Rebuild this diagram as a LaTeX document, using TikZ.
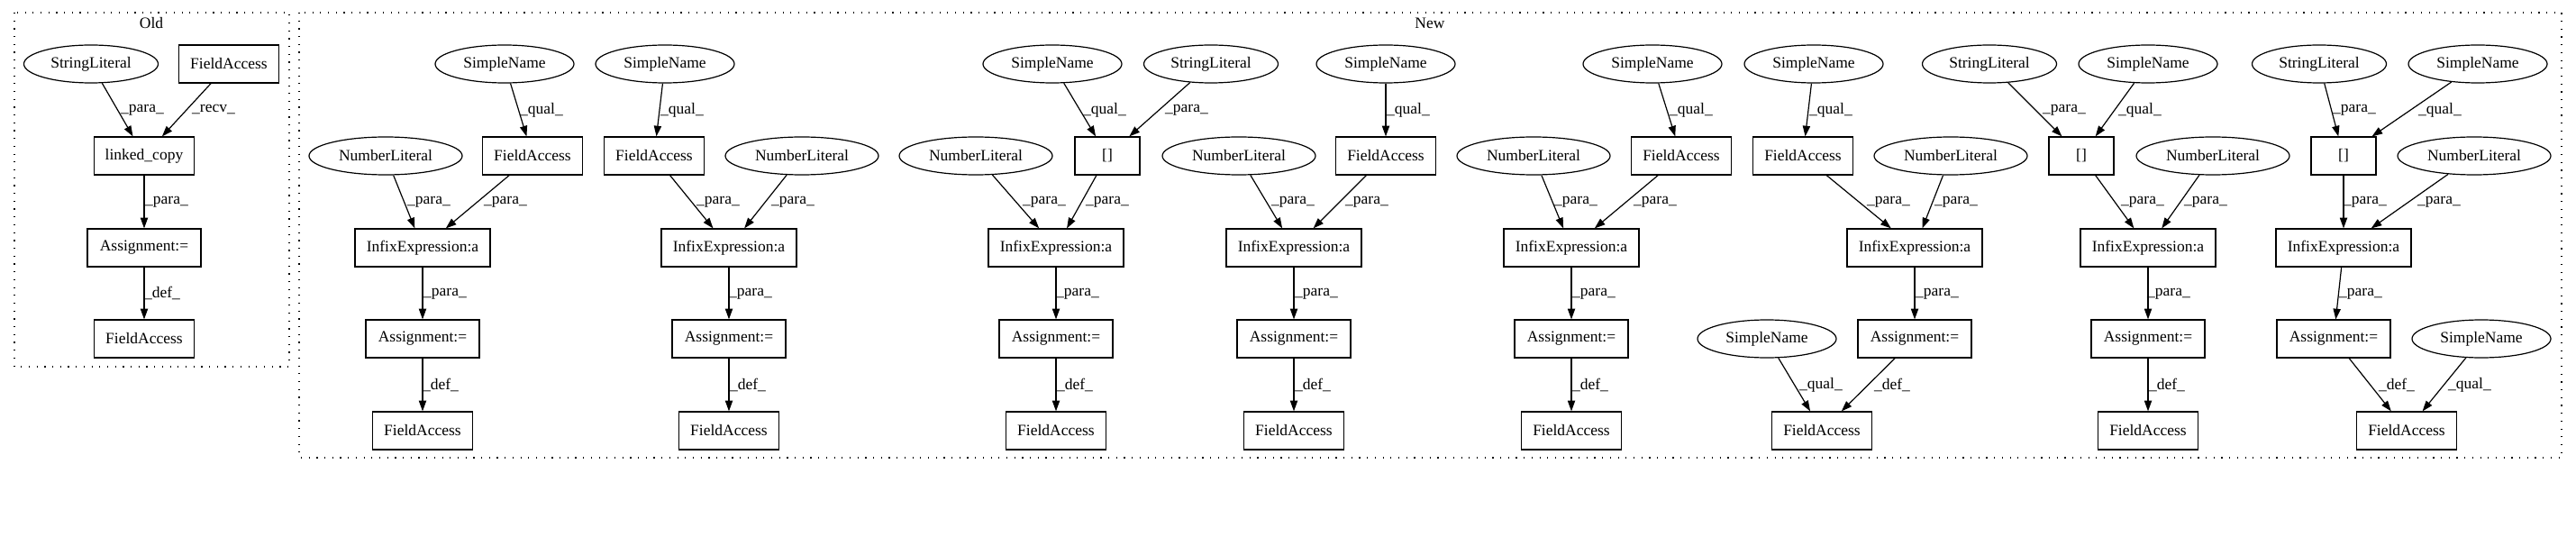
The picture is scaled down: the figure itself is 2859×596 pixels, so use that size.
\documentclass[tikz,border=0pt]{standalone}
\usepackage{fontspec}
\setmainfont{Liberation Serif}
\usetikzlibrary{shapes.geometric,arrows.meta}
\begin{document}
\begin{tikzpicture}[x=1pt,y=-1pt,
  every node/.style={font=\fontsize{17.5}{20}\selectfont},
  box/.style={draw, line width=1.2pt, rectangle, minimum height=42pt, inner sep=0pt},
  ell/.style={draw, line width=1.2pt, ellipse, minimum height=42pt, inner sep=0pt},
  fa/.style={box, minimum width=111pt},
  ie/.style={box, minimum width=150pt},
  as/.style={box, minimum width=126pt},
  br/.style={box, minimum width=72pt},
  sl/.style={ell, minimum width=149pt},
  nl/.style={ell, minimum width=170pt},
  sn/.style={ell, minimum width=154pt},
  arr/.style={draw, line width=1.2pt, -{Triangle[length=11.7pt,width=8.2pt]}},
  lab/.style={inner sep=0pt},
  clus/.style={draw, line width=1.2pt, dash pattern=on 1.2pt off 7.5pt},
]
\useasboundingbox (0,0) rectangle (2859,596);
% clusters
\draw[clus] (16,14) rectangle (321,407);
\node[lab] (oldt) at (168,26) {Old};
\draw[clus] (332,14) rectangle (2843,508);
\node[lab] (newt) at (1587,26) {New};

% Old
\node[sl] (o_sl) at (101,71) {StringLiteral};
\node[fa] (o_fa) at (254,71) {FieldAccess};
\node[fa] (o_lc) at (160,173) {linked\_copy};
\node[as] (o_as) at (160,275) {Assignment:=};
\node[fa] (o_fd) at (160,376) {FieldAccess};
\draw[arr] (o_sl) -- (o_lc);
\draw[arr] (o_fa) -- (o_lc);
\draw[arr] (o_lc) -- (o_as);
\draw[arr] (o_as) -- (o_fd);
\node[lab] (ol1) at (158,122) {\_para\_};
\node[lab] (ol2) at (237,122) {\_recv\_};
\node[lab] (ol3) at (185,224) {\_para\_};
\node[lab] (ol4) at (180,325) {\_def\_};

% New column 1
\node[nl] (a_nl) at (428,173) {NumberLiteral};
\node[sn] (a_sn) at (560,71) {SimpleName};
\node[fa] (a_fa) at (591,173) {FieldAccess};
\node[ie] (a_ie) at (469,275) {InfixExpression:a};
\node[as] (a_as) at (469,376) {Assignment:=};
\node[fa] (a_fd) at (469,478) {FieldAccess};
\draw[arr] (a_sn) -- (a_fa);
\draw[arr] (a_nl) -- (a_ie);
\draw[arr] (a_fa) -- (a_ie);
\draw[arr] (a_ie) -- (a_as);
\draw[arr] (a_as) -- (a_fd);
\node[lab] (al1) at (601,122) {\_qual\_};
\node[lab] (al2) at (476,224) {\_para\_};
\node[lab] (al3) at (561,224) {\_para\_};
\node[lab] (al4) at (494,326) {\_para\_};
\node[lab] (al5) at (489,427) {\_def\_};

% column 2
\node[sn] (b_sn) at (738,71) {SimpleName};
\node[fa] (b_fa) at (726,173) {FieldAccess};
\node[nl] (b_nl) at (890,173) {NumberLiteral};
\node[ie] (b_ie) at (809,275) {InfixExpression:a};
\node[as] (b_as) at (809,376) {Assignment:=};
\node[fa] (b_fd) at (809,478) {FieldAccess};
\draw[arr] (b_sn) -- (b_fa);
\draw[arr] (b_fa) -- (b_ie);
\draw[arr] (b_nl) -- (b_ie);
\draw[arr] (b_ie) -- (b_as);
\draw[arr] (b_as) -- (b_fd);
\node[lab] (bl1) at (757,122) {\_qual\_};
\node[lab] (bl2) at (797,224) {\_para\_};
\node[lab] (bl3) at (880,224) {\_para\_};
\node[lab] (bl4) at (833,326) {\_para\_};
\node[lab] (bl5) at (830,427) {\_def\_};

% column 3
\node[nl] (c_nl) at (1083,173) {NumberLiteral};
\node[sn] (c_sn) at (1168,71) {SimpleName};
\node[sl] (c_sl) at (1344,71) {StringLiteral};
\node[br] (c_br) at (1229,173) {[]};
\node[ie] (c_ie) at (1172,275) {InfixExpression:a};
\node[as] (c_as) at (1172,376) {Assignment:=};
\node[fa] (c_fd) at (1172,478) {FieldAccess};
\draw[arr] (c_sn) -- (c_br);
\draw[arr] (c_sl) -- (c_br);
\draw[arr] (c_nl) -- (c_ie);
\draw[arr] (c_br) -- (c_ie);
\draw[arr] (c_ie) -- (c_as);
\draw[arr] (c_as) -- (c_fd);
\node[lab] (cl1) at (1226,122) {\_qual\_};
\node[lab] (cl2) at (1317,122) {\_para\_};
\node[lab] (cl3) at (1159,224) {\_para\_};
\node[lab] (cl4) at (1229,224) {\_para\_};
\node[lab] (cl5) at (1196,326) {\_para\_};
\node[lab] (cl6) at (1193,427) {\_def\_};

% column 4
\node[nl] (d_nl) at (1375,173) {NumberLiteral};
\node[sn] (d_sn) at (1538,71) {SimpleName};
\node[fa] (d_fa) at (1538,173) {FieldAccess};
\node[ie] (d_ie) at (1436,275) {InfixExpression:a};
\node[as] (d_as) at (1436,376) {Assignment:=};
\node[fa] (d_fd) at (1436,478) {FieldAccess};
\draw[arr] (d_sn) -- (d_fa);
\draw[arr] (d_nl) -- (d_ie);
\draw[arr] (d_fa) -- (d_ie);
\draw[arr] (d_ie) -- (d_as);
\draw[arr] (d_as) -- (d_fd);
\node[lab] (dl1) at (1563,122) {\_qual\_};
\node[lab] (dl2) at (1435,224) {\_para\_};
\node[lab] (dl3) at (1517,224) {\_para\_};
\node[lab] (dl4) at (1461,326) {\_para\_};
\node[lab] (dl5) at (1457,427) {\_def\_};

% column 5
\node[nl] (e_nl) at (1702,173) {NumberLiteral};
\node[sn] (e_sn) at (1834,71) {SimpleName};
\node[fa] (e_fa) at (1866,173) {FieldAccess};
\node[ie] (e_ie) at (1744,275) {InfixExpression:a};
\node[as] (e_as) at (1744,376) {Assignment:=};
\node[fa] (e_fd) at (1744,478) {FieldAccess};
\draw[arr] (e_sn) -- (e_fa);
\draw[arr] (e_nl) -- (e_ie);
\draw[arr] (e_fa) -- (e_ie);
\draw[arr] (e_ie) -- (e_as);
\draw[arr] (e_as) -- (e_fd);
\node[lab] (el1) at (1877,122) {\_qual\_};
\node[lab] (el2) at (1749,224) {\_para\_};
\node[lab] (el3) at (1837,224) {\_para\_};
\node[lab] (el4) at (1769,326) {\_para\_};
\node[lab] (el5) at (1765,427) {\_def\_};

% column 6
\node[sn] (f_sn) at (2013,71) {SimpleName};
\node[fa] (f_fa) at (2001,173) {FieldAccess};
\node[nl] (f_nl) at (2165,173) {NumberLiteral};
\node[ie] (f_ie) at (2125,275) {InfixExpression:a};
\node[as] (f_as) at (2125,376) {Assignment:=};
\node[sn] (f_sn2) at (1961,376) {SimpleName};
\node[fa] (f_fd) at (2022,478) {FieldAccess};
\draw[arr] (f_sn) -- (f_fa);
\draw[arr] (f_fa) -- (f_ie);
\draw[arr] (f_nl) -- (f_ie);
\draw[arr] (f_ie) -- (f_as);
\draw[arr] (f_sn2) -- (f_fd);
\draw[arr] (f_as) -- (f_fd);
\node[lab] (fl1) at (2032,122) {\_qual\_};
\node[lab] (fl2) at (2096,224) {\_para\_};
\node[lab] (fl3) at (2171,224) {\_para\_};
\node[lab] (fl4) at (2150,326) {\_para\_};
\node[lab] (fl5) at (2021,427) {\_qual\_};
\node[lab] (fl6) at (2100,427) {\_def\_};

% column 7
\node[sl] (g_sl) at (2208,71) {StringLiteral};
\node[sn] (g_sn) at (2384,71) {SimpleName};
\node[br] (g_br) at (2310,173) {[]};
\node[nl] (g_nl) at (2456,173) {NumberLiteral};
\node[ie] (g_ie) at (2384,275) {InfixExpression:a};
\node[as] (g_as) at (2384,376) {Assignment:=};
\node[fa] (g_fd) at (2384,478) {FieldAccess};
\draw[arr] (g_sl) -- (g_br);
\draw[arr] (g_sn) -- (g_br);
\draw[arr] (g_br) -- (g_ie);
\draw[arr] (g_nl) -- (g_ie);
\draw[arr] (g_ie) -- (g_as);
\draw[arr] (g_as) -- (g_fd);
\node[lab] (gl1) at (2291,122) {\_para\_};
\node[lab] (gl2) at (2375,122) {\_qual\_};
\node[lab] (gl3) at (2378,224) {\_para\_};
\node[lab] (gl4) at (2448,224) {\_para\_};
\node[lab] (gl5) at (2407,326) {\_para\_};
\node[lab] (gl6) at (2405,427) {\_def\_};

% column 8
\node[sl] (h_sl) at (2574,71) {StringLiteral};
\node[sn] (h_sn) at (2750,71) {SimpleName};
\node[br] (h_br) at (2601,173) {[]};
\node[nl] (h_nl) at (2746,173) {NumberLiteral};
\node[ie] (h_ie) at (2601,275) {InfixExpression:a};
\node[as] (h_as) at (2590,376) {Assignment:=};
\node[sn] (h_sn2) at (2754,376) {SimpleName};
\node[fa] (h_fd) at (2671,478) {FieldAccess};
\draw[arr] (h_sl) -- (h_br);
\draw[arr] (h_sn) -- (h_br);
\draw[arr] (h_br) -- (h_ie);
\draw[arr] (h_nl) -- (h_ie);
\draw[arr] (h_ie) -- (h_as);
\draw[arr] (h_as) -- (h_fd);
\draw[arr] (h_sn2) -- (h_fd);
\node[lab] (hl1) at (2613,122) {\_para\_};
\node[lab] (hl2) at (2708,122) {\_qual\_};
\node[lab] (hl3) at (2625,224) {\_para\_};
\node[lab] (hl4) at (2707,224) {\_para\_};
\node[lab] (hl5) at (2620,326) {\_para\_};
\node[lab] (hl6) at (2660,427) {\_def\_};
\node[lab] (hl7) at (2741,427) {\_qual\_};
\end{tikzpicture}
\end{document}
